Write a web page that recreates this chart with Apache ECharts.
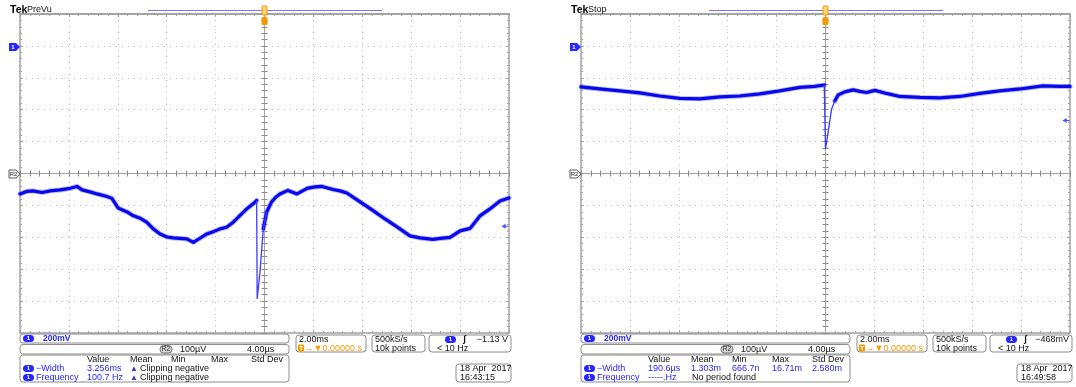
<!DOCTYPE html>
<html><head><meta charset="utf-8">
<script src="https://cdn.jsdelivr.net/npm/echarts@6/dist/echarts.min.js"></script>
<style>html,body{margin:0;padding:0;background:#fff}#c{width:1076px;height:387px}</style>
</head><body><div id="c"></div>
<script>
// ---------- DATA (time in ms, 2 ms/div; Ch1 in mV, 200 mV/div) ----------
const timeRange = [-10, 10];
const timeStep = 2;
const voltRange = [-1800, 200];
const voltStep = 200;

// Left capture (PreVu)
const leftPre = [[-10.00,-928],[-9.71,-912],[-9.47,-909],[-9.10,-919],[-8.77,-909],[-8.36,-903],[-7.95,-893],[-7.67,-881],[-7.46,-903],[-7.14,-915],[-6.85,-928],[-6.44,-944],[-6.24,-956],[-5.99,-1016],[-5.62,-1041],[-5.38,-1064],[-5.09,-1080],[-4.82,-1105],[-4.55,-1147],[-4.27,-1179],[-3.99,-1198],[-3.73,-1204],[-3.18,-1210],[-2.91,-1232],[-2.64,-1206],[-2.36,-1179],[-2.11,-1166],[-1.82,-1147],[-1.55,-1137],[-1.28,-1105],[-1.00,-1063],[-0.73,-1022],[-0.39,-980],[-0.32,-969]];
const leftSpike = [[-0.32,-969],[-0.30,-1586],[-0.26,-1586],[-0.18,-1411],[-0.05,-1147],[0.09,-1041]];
const leftPost = [[-0.05,-1147],[0.09,-1041],[0.29,-978],[0.47,-947],[0.63,-928],[0.96,-906],[1.33,-928],[1.74,-893],[2.07,-884],[2.35,-881],[2.80,-900],[3.09,-909],[3.37,-922],[3.91,-978],[4.40,-1028],[4.93,-1085],[5.54,-1147],[5.95,-1191],[6.36,-1204],[6.89,-1213],[7.18,-1207],[7.59,-1201],[8.00,-1160],[8.41,-1144],[8.81,-1066],[9.22,-1022],[9.63,-972],[10.00,-953]];

// Right capture (Stop)
const rightPre = [[-10.00,-257],[-9.23,-270],[-8.41,-282],[-7.59,-295],[-6.78,-314],[-5.96,-329],[-5.14,-332],[-4.32,-320],[-3.51,-314],[-2.69,-301],[-1.87,-282],[-1.05,-260],[-0.44,-254],[-0.05,-245]];
const rightSpike = [[-0.05,-245],[0.00,-646],[0.03,-658],[0.11,-539],[0.25,-395],[0.38,-345]];
const rightPost = [[0.38,-345],[0.52,-307],[0.79,-288],[1.13,-276],[1.40,-285],[1.68,-292],[2.02,-279],[2.49,-298],[3.04,-317],[3.86,-323],[4.67,-326],[5.49,-317],[6.31,-298],[7.13,-282],[7.95,-270],[8.89,-251],[9.58,-254],[10.00,-254]];

const triggerLevels = [-1130, -468];          // mV
const triggerTexts = ['\u22121.13 V', '\u2212468mV'];
const modeTexts = ['PreVu', 'Stop'];
const dateTexts = ['18 Apr  2017', '18 Apr  2017'];
const timeTexts = ['16:43:15', '16:49:58'];
const measHeaders = ['Value', 'Mean', 'Min', 'Max', 'Std Dev'];
const leftWidthRow = ['3.256ms', 'Clipping negative'];
const leftFreqRow = ['100.7 Hz', 'Clipping negative'];
const rightWidthRow = ['190.6\u00b5s', '1.303m', '666.7n', '16.71m', '2.580m'];
const rightFreqRow = ['-----.Hz', 'No period found'];
const chScale = '200mV';
const refTexts = ['R2', '100\u00b5V', '4.00\u00b5s'];
const timebaseTexts = ['2.00ms', '\u2192\u25bc0.00000 s'];
const sampleTexts = ['500kS/s', '10k points'];
const trigFreq = '< 10 Hz';

// ---------- LAYOUT ----------
const panelLeft = [20, 581];
const PW = 489, PH = 319, PT = 14;
const BLUE = '#2626ff', GRAY = '#a3a3a3', ORANGE = '#f29a00';
const FONT = '"Liberation Sans", Arial, sans-serif';

const grids = [], xAxes = [], yAxes = [], series = [], graphics = [];

function borderX(g, pos, split) {
  return {gridIndex: g, type: 'value', min: timeRange[0], max: timeRange[1], interval: timeStep, position: pos,
    axisLine: {show: true, onZero: false, lineStyle: {color: GRAY, width: pos === 'top' ? 2 : 1.5}},
    axisTick: {show: true, inside: true, length: 3, lineStyle: {color: GRAY}},
    minorTick: {show: true, splitNumber: 5, length: 2, lineStyle: {color: GRAY}},
    axisLabel: {show: false},
    splitLine: {show: split, lineStyle: {color: '#bdbdbd', type: [1, 5], width: 1}}};
}
function centerX(g, pos, yIdx) {
  return {gridIndex: g, type: 'value', min: timeRange[0], max: timeRange[1], interval: timeStep, position: pos,
    axisLine: {show: true, onZero: true, onZeroAxisIndex: yIdx, lineStyle: {color: GRAY, width: 1}},
    axisTick: {show: true, inside: true, length: 3, lineStyle: {color: '#8a8a8a'}},
    minorTick: {show: true, splitNumber: 5, length: 3, lineStyle: {color: '#8a8a8a'}},
    axisLabel: {show: false}, splitLine: {show: false}};
}
function borderY(g, pos, split) {
  return {gridIndex: g, type: 'value', min: voltRange[0], max: voltRange[1], interval: voltStep, position: pos,
    axisLine: {show: true, onZero: false, lineStyle: {color: GRAY, width: 1.5}},
    axisTick: {show: true, inside: true, length: 3, lineStyle: {color: GRAY}},
    minorTick: {show: true, splitNumber: 5, length: 2, lineStyle: {color: GRAY}},
    axisLabel: {show: false},
    splitLine: {show: split, lineStyle: {color: '#bdbdbd', type: [1, 5], width: 1}}};
}
function centerY(g, pos, xIdx) {
  return {gridIndex: g, type: 'value', min: voltRange[0], max: voltRange[1], interval: voltStep, position: pos,
    axisLine: {show: true, onZero: true, onZeroAxisIndex: xIdx, lineStyle: {color: GRAY, width: 1}},
    axisTick: {show: true, inside: true, length: 3, lineStyle: {color: '#8a8a8a'}},
    minorTick: {show: true, splitNumber: 5, length: 3, lineStyle: {color: '#8a8a8a'}},
    axisLabel: {show: false}, splitLine: {show: false}};
}

function txt(x, y, text, o) {
  o = o || {};
  return {type: 'text', x: x, y: y, z: 100, silent: true,
    style: {text: text, font: (o.weight || 'normal') + ' ' + (o.size || 9) + 'px ' + FONT, fill: o.color || '#111',
      align: o.align || 'left', textAlign: o.align || 'left', verticalAlign: 'middle', textVerticalAlign: 'middle'}};
}
function box(x, y, w, h) {
  return {type: 'rect', z: 99, silent: true, shape: {x: x, y: y, width: w, height: h, r: 3},
    style: {fill: '#fff', stroke: '#8c8c8c', lineWidth: 1}};
}
function badge(x, y, label) {
  return [{type: 'rect', z: 100, silent: true, shape: {x: x, y: y, width: 11, height: 7, r: 3.5}, style: {fill: BLUE}},
    txt(x + 5.5, y + 3.6, label, {color: '#fff', size: 6, weight: 'bold', align: 'center'})];
}

const traces = [[leftPre, leftSpike, leftPost], [rightPre, rightSpike, rightPost]];

panelLeft.forEach(function (L, p) {
  grids.push({left: L, top: PT, width: PW, height: PH, show: false});
  const xb = xAxes.length, yb = yAxes.length;
  xAxes.push(borderX(p, 'bottom', true), borderX(p, 'top', false), centerX(p, 'bottom', yb + 4), centerX(p, 'top', yb + 4));
  yAxes.push(borderY(p, 'left', true), borderY(p, 'right', false), centerY(p, 'left', xb), centerY(p, 'right', xb),
    {gridIndex: p, type: 'value', min: -5, max: 5, show: false});
  const tr = traces[p];
  [tr[0], tr[2]].forEach(function (d) {
    series.push({type: 'line', xAxisIndex: xb, yAxisIndex: yb, data: d, symbol: 'none', silent: true, z: 3,
      lineStyle: {color: '#5a5aff', width: 5, opacity: 0.45, join: 'round', cap: 'round'}});
    series.push({type: 'line', xAxisIndex: xb, yAxisIndex: yb, data: d, symbol: 'none', silent: true, z: 4,
      lineStyle: {color: '#0808ea', width: 3.2, join: 'round', cap: 'round'}});
  });
  series.push({type: 'line', xAxisIndex: xb, yAxisIndex: yb, data: tr[1], symbol: 'none', silent: true, z: 4,
    lineStyle: {color: '#3a3aff', width: 1.3}});
  series.push({type: 'scatter', xAxisIndex: xb, yAxisIndex: yb, data: [[timeRange[1], triggerLevels[p]]], silent: true, z: 6,
    symbol: 'path://M0,5 L6,0 L6,4 L10,4 L10,6 L6,6 L6,10 Z', symbolSize: [7, 5], symbolOffset: [-4, 0],
    itemStyle: {color: BLUE}});

  const ox = L - 20;
  const cx = L + PW / 2;
  // header
  graphics.push(txt(ox + 10, 10, 'Tek', {weight: 'bold', size: 10.5, color: '#000'}));
  graphics.push(txt(ox + 27, 10, modeTexts[p], {size: 9, color: '#111'}));
  graphics.push({type: 'line', z: 100, silent: true, shape: {x1: ox + 148, y1: 10.5, x2: ox + 382, y2: 10.5}, style: {stroke: '#7474ff', lineWidth: 1}});
  graphics.push({type: 'rect', z: 101, silent: true, shape: {x: cx - 2.5, y: 6, width: 5, height: 9, r: 1}, style: {fill: '#ffd27a', stroke: ORANGE, lineWidth: 1}});
  graphics.push({type: 'rect', z: 101, silent: true, shape: {x: cx - 3, y: 17, width: 6, height: 8, r: 1.5}, style: {fill: ORANGE}});
  graphics.push(txt(cx, 21.5, 'T', {color: '#fff3d0', size: 6, weight: 'bold', align: 'center'}));
  // ch1 marker
  graphics.push({type: 'polygon', z: 100, silent: true, shape: {points: [[ox + 9, 43], [ox + 16, 43], [ox + 20, 47], [ox + 16, 51], [ox + 9, 51]]}, style: {fill: BLUE}});
  graphics.push(txt(ox + 13, 47.5, '1', {color: '#fff', size: 6, weight: 'bold', align: 'center'}));
  // R2 marker
  graphics.push({type: 'polygon', z: 100, silent: true, shape: {points: [[ox + 9, 170], [ox + 16, 170], [ox + 20, 174], [ox + 16, 178], [ox + 9, 178]]}, style: {fill: '#fff', stroke: '#333', lineWidth: 0.8}});
  graphics.push(txt(ox + 13.5, 174.5, 'R2', {color: '#222', size: 6, align: 'center'}));

  // bottom readouts
  graphics.push(box(ox + 20, 334, 269, 9));
  graphics.push.apply(graphics, badge(ox + 23, 335, '1'));
  graphics.push(txt(ox + 43, 338.8, chScale, {color: BLUE, weight: 'bold', size: 8.5}));

  graphics.push(box(ox + 20, 344.5, 269, 9.5));
  graphics.push({type: 'rect', z: 100, silent: true, shape: {x: ox + 160, y: 345.5, width: 12, height: 7.5, r: 3.5}, style: {fill: '#d8d8d8', stroke: '#555', lineWidth: 0.8}});
  graphics.push(txt(ox + 166, 349.5, refTexts[0], {color: '#222', size: 6.5, align: 'center'}));
  graphics.push(txt(ox + 180, 349.5, refTexts[1], {size: 9}));
  graphics.push(txt(ox + 247, 349.5, refTexts[2], {size: 9}));

  graphics.push(box(ox + 20, 355, 269, 27));
  const hx = [87, 130, 171, 211, 251];
  measHeaders.forEach(function (h, i) { graphics.push(txt(ox + hx[i], 359.8, h, {size: 9})); });
  graphics.push.apply(graphics, badge(ox + 23, 365, '1'));
  graphics.push.apply(graphics, badge(ox + 23, 374, '1'));
  graphics.push(txt(ox + 36, 368.7, '\u2212Width', {color: BLUE, size: 9}));
  graphics.push(txt(ox + 36, 377.7, 'Frequency', {color: BLUE, size: 9}));
  if (p === 0) {
    graphics.push(txt(ox + 87, 368.7, leftWidthRow[0], {color: BLUE, size: 9}));
    graphics.push(txt(ox + 87, 377.7, leftFreqRow[0], {color: BLUE, size: 9}));
    graphics.push(txt(ox + 130, 368.5, '\u25b2', {color: '#5030c0', size: 8}));
    graphics.push(txt(ox + 130, 377.5, '\u25b2', {color: '#5030c0', size: 8}));
    graphics.push(txt(ox + 140, 368.7, leftWidthRow[1], {size: 9}));
    graphics.push(txt(ox + 140, 377.7, leftFreqRow[1], {size: 9}));
  } else {
    rightWidthRow.forEach(function (v, i) { graphics.push(txt(ox + hx[i], 368.7, v, {color: BLUE, size: 9})); });
    graphics.push(txt(ox + 87, 377.7, rightFreqRow[0], {color: BLUE, size: 9}));
    graphics.push(txt(ox + 131, 377.7, rightFreqRow[1], {size: 9}));
  }

  // timebase
  graphics.push(box(ox + 296, 335, 70, 17));
  graphics.push(txt(ox + 299, 339.8, timebaseTexts[0], {size: 9}));
  graphics.push({type: 'rect', z: 100, silent: true, shape: {x: ox + 298, y: 344.5, width: 6, height: 7, r: 1}, style: {fill: ORANGE}});
  graphics.push(txt(ox + 301, 348.3, 'T', {color: '#fff', size: 6, weight: 'bold', align: 'center'}));
  graphics.push(txt(ox + 304.5, 348.3, timebaseTexts[1], {color: ORANGE, size: 9, font: 'DejaVu Sans'}));
  // sample
  graphics.push(box(ox + 372, 335, 53, 17));
  graphics.push(txt(ox + 375, 339.8, sampleTexts[0], {size: 9}));
  graphics.push(txt(ox + 375, 348.3, sampleTexts[1], {size: 9}));
  // trigger
  graphics.push(box(ox + 429, 335, 82, 17));
  graphics.push.apply(graphics, badge(ox + 445, 336, '1'));
  graphics.push(txt(ox + 463, 339.8, '\u0283', {size: 9, weight: 'bold'}));
  graphics.push(txt(ox + 508, 339.8, triggerTexts[p], {size: 9, align: 'right'}));
  graphics.push(txt(ox + 437, 348.3, trigFreq, {size: 9}));
  // date
  graphics.push(box(ox + 456, 364, 55, 18));
  graphics.push(txt(ox + 460, 368.7, dateTexts[p], {size: 9}));
  graphics.push(txt(ox + 460, 377.5, timeTexts[p], {size: 9}));
});

const chart = echarts.init(document.getElementById('c'), null, {renderer: 'canvas'});
chart.setOption({
  animation: false,
  backgroundColor: '#fff',
  grid: grids, xAxis: xAxes, yAxis: yAxes, series: series,
  graphic: {elements: graphics}
});
</script>
</body></html>
